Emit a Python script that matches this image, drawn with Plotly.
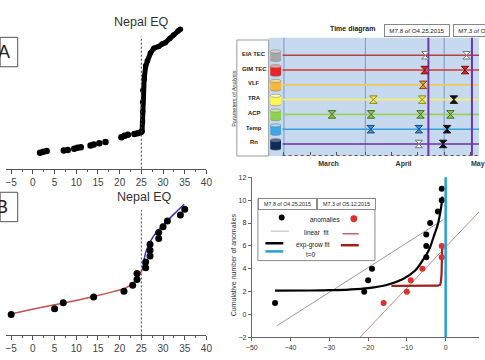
import plotly.graph_objects as go

W, H = 485, 360


def fx(p):
    return p / W


def fy(p):
    return (H - p) / H


# ---------------- Panel A (Nepal EQ, raw cumulative) ----------------
eq_day = 25
a_scatter_day = [1.66, 2.4, 3.17, 7.13, 8.03, 9.53, 10.27, 11.04, 13.29, 14.03, 15.31, 16.73,
                 20.39, 21.16, 21.9, 23.4, 24.15, 24.89]
a_scatter_cum = [16.3, 17.2, 18.0, 18.7, 19.0, 20.3, 21.3, 22.0, 23.7, 24.7, 26.0, 27.3,
                 32.0, 33.7, 34.7, 35.3, 36.3, 37.3]
a_jump_day = [24.89, 25.16, 25.27, 25.3, 25.3, 25.34, 25.65, 26.0, 26.4, 27.1, 27.9, 29.0,
              29.8, 30.5, 31.6, 32.4, 33.5, 34.0]
a_jump_cum = [37.3, 38, 48, 58, 68, 80, 91.3, 105, 110, 118, 123, 124.7,
              127.3, 128.5, 133, 136.3, 140.7, 142.3]

# ---------------- Panel B (Nepal EQ, fitted) ----------------
b_day = [-5, 5, 7, 14, 21, 23, 24, 24, 26, 26, 27, 27, 27, 29, 29, 30, 31, 34, 35]
b_cum = [1, 2, 3, 4, 5, 6, 7, 8, 9, 10, 11, 12, 13, 14, 15, 16, 17, 18, 19]
b_pre_day = [-5.08, 1.28, 5.04, 8.79, 14.03, 18.53, 21.16, 23.02, 24.53, 25.27]
b_pre_cum = [1.12, 2.13, 2.68, 3.25, 4.09, 4.92, 5.48, 6.31, 7.71, 8.83]
b_post_day = [25.27, 26.01, 27.14, 28.64, 30.51, 32.76, 34.87]
b_post_cum = [8.83, 11.62, 13.57, 15.24, 16.65, 18.33, 19.83]
axis_ticks = [-5, 0, 5, 10, 15, 20, 25, 30, 35, 40]

# ---------------- Panel C (time diagram) ----------------
params = ["EIA TEC", "GIM TEC", "VLF", "TRA", "ACP", "Temp", "Rn"]
row_line_colors = ["#b8403c", "#d8342c", "#f0c858", "#f4ee6a", "#9ccf5c", "#3aa0dc", "#6a2fa0"]
cyl_colors = ["#a8a8a8", "#e6262b", "#f4b63c", "#fbf45a", "#92d050", "#3ea6e6", "#10295c"]
cyl_tops = ["#d4d4d4", "#f2a0a0", "#f8d890", "#fdfab0", "#c8e8a4", "#a6d6f4", "#5a6c90"]
ev_param = [0, 0, 1, 1, 2, 3, 3, 3, 4, 4, 4, 4, 5, 5, 5, 6, 6]
ev_date = ["2015-04-23 20:00", "2015-05-09 13:00",
           "2015-04-23 14:00", "2015-05-08 23:00",
           "2015-04-23 00:00",
           "2015-04-04 01:00", "2015-04-22 15:00", "2015-05-04 17:00",
           "2015-03-19 07:00", "2015-04-03 04:00", "2015-04-22 00:00", "2015-05-03 09:00",
           "2015-04-03 01:00", "2015-04-21 09:00", "2015-05-02 03:00",
           "2015-04-21 09:00", "2015-04-30 15:00"]
ev_fill = ["#ffffff", "#ffffff",
           "#d8202a", "#d8202a",
           "#e8923a",
           "#f2ee3c", "#f2ee3c", "#111111",
           "#92c850", "#92c850", "#92c850", "#92c850",
           "#3a94d8", "#3a94d8", "#111111",
           "#ffffff", "#111111"]
ev_edge = ["#777777", "#777777",
           "#7a1010", "#7a1010",
           "#8a4a10",
           "#8a8620", "#8a8620", "#111111",
           "#3f6a20", "#3f6a20", "#3f6a20", "#3f6a20",
           "#1a4a80", "#1a4a80", "#111111",
           "#777777", "#111111"]
quake_dates = ["2015-04-25", "2015-05-11 14:00"]
quake_labels = ["M7.8 of O4.25.2015", "M7.3 of O5.12.2015"]
month_starts = ["2015-03-01", "2015-04-01", "2015-05-01"]
month_label_pos = ["2015-03-18", "2015-04-15 13:00", "2015-05-13 20:00"]
month_names = ["March", "April", "May"]
minor_dates = ["2015-03-01", "2015-03-11", "2015-03-21", "2015-04-01",
               "2015-04-11", "2015-04-21", "2015-05-01", "2015-05-11"]

# ---------------- Panel D (cumulative anomalies) ----------------
m78_day = [-44, -21, -20, -19, -5, -5, -5, -4, -2, -1, -1]
m78_cum = [1, 2, 3, 4, 5, 6, 7, 8, 9, 10, 11]
m73_day = [-16, -10, -9, -6, -1, -1]
m73_cum = [1, 2, 3, 4, 5, 6]
m78_lin_day = [-43.6, -0.6]
m78_lin_cum = [-1.0, 8.3]
m73_lin_day = [-22.1, 8.6]
m73_lin_cum = [-2.0, 8.97]
m78_exp_day = [-44, -35, -30, -25, -20, -15, -11, -8, -6, -5, -4, -3, -2, -1.2, -0.8]
m78_exp_cum = [2.08, 2.1, 2.13, 2.18, 2.3, 2.6, 3.1, 3.8, 4.7, 5.2, 5.9, 6.9, 7.9, 9.3, 10.3]
m73_exp_day = [-14, -6, -2, -1.4, -1.2, -1.05, -0.95, -0.88]
m73_exp_cum = [2.5, 2.5, 2.52, 2.6, 2.9, 3.6, 4.6, 6.0]
t_zero = 0

FONT = "Liberation Sans, Arial, sans-serif"

fig = go.Figure()

# Panel A
fig.add_trace(go.Scatter(x=a_scatter_day, y=a_scatter_cum, mode="markers",
                         marker=dict(color="black", size=6.5), xaxis="x", yaxis="y"))
fig.add_trace(go.Scatter(x=a_jump_day, y=a_jump_cum, mode="lines+markers",
                         line=dict(color="black", width=5), marker=dict(color="black", size=5.5),
                         xaxis="x", yaxis="y"))

# Panel B
fig.add_trace(go.Scatter(x=b_pre_day, y=b_pre_cum, mode="lines", line=dict(color="#c8504c", width=1.5, shape="spline"),
                         xaxis="x2", yaxis="y2"))
fig.add_trace(go.Scatter(x=b_post_day, y=b_post_cum, mode="lines", line=dict(color="#3434c4", width=1.5, shape="spline"),
                         xaxis="x2", yaxis="y2"))
fig.add_trace(go.Scatter(x=b_day, y=b_cum, mode="markers", marker=dict(color="black", size=7),
                         xaxis="x2", yaxis="y2"))

# Panel C
fig.add_trace(go.Scatter(x=ev_date, y=ev_param, mode="markers",
                         marker=dict(symbol="hourglass", size=7.5, color=ev_fill,
                                     line=dict(color=ev_edge, width=1)),
                         xaxis="x3", yaxis="y3"))

# Panel D
fig.add_trace(go.Scatter(x=m78_lin_day, y=m78_lin_cum, mode="lines", line=dict(color="#9a9a9a", width=1),
                         xaxis="x4", yaxis="y4"))
fig.add_trace(go.Scatter(x=m73_lin_day, y=m73_lin_cum, mode="lines", line=dict(color="#c08a86", width=1),
                         xaxis="x4", yaxis="y4"))
fig.add_trace(go.Scatter(x=m78_exp_day, y=m78_exp_cum, mode="lines", line=dict(color="black", width=2.2, shape="spline"),
                         xaxis="x4", yaxis="y4"))
fig.add_trace(go.Scatter(x=m73_exp_day, y=m73_exp_cum, mode="lines", line=dict(color="#a0201c", width=2.2),
                         xaxis="x4", yaxis="y4"))
fig.add_trace(go.Scatter(x=m78_day, y=m78_cum, mode="markers", marker=dict(color="black", size=6),
                         xaxis="x4", yaxis="y4"))
fig.add_trace(go.Scatter(x=m73_day, y=m73_cum, mode="markers", marker=dict(color="#e0302c", size=6),
                         xaxis="x4", yaxis="y4"))

shapes = []
annotations = []

# ---- Panel A/B decorations
shapes.append(dict(type="line", xref="x", yref="y domain", x0=eq_day, x1=eq_day, y0=0, y1=0.804,
                   line=dict(color="#444", width=1, dash="2px,2px")))
shapes.append(dict(type="line", xref="x2", yref="y2 domain", x0=eq_day, x1=eq_day, y0=0, y1=0.81,
                   line=dict(color="#444", width=1, dash="2px,2px")))
for y0, y1, letter, lx, ly in [(34, 64, "A", -2.0, 49), (192, 222, "B", -4.0, 207)]:
    shapes.append(dict(type="rect", xref="paper", yref="paper", x0=fx(-6), x1=fx(12), y0=fy(y1), y1=fy(y0),
                       line=dict(color="#555", width=1), fillcolor="white"))
    annotations.append(dict(text=letter, xref="paper", yref="paper", x=fx(lx), y=fy(ly), showarrow=False,
                            font=dict(size=18, color="#222"), xanchor="center", yanchor="middle"))
annotations.append(dict(text="Nepal EQ", xref="paper", yref="paper", x=fx(138), y=fy(18), showarrow=False,
                        font=dict(size=12.5, color="#333"), xanchor="center", yanchor="middle"))
annotations.append(dict(text="Nepal EQ", xref="paper", yref="paper", x=fx(141), y=fy(196.5), showarrow=False,
                        font=dict(size=12.5, color="#333"), xanchor="center", yanchor="middle"))

# ---- Panel C decorations
shapes.append(dict(type="rect", xref="paper", yref="paper", x0=fx(269.3), x1=1.0, y0=fy(155), y1=fy(34.3),
                   line=dict(width=0), fillcolor="#c7d9ef", layer="below"))
shapes.append(dict(type="rect", xref="paper", yref="paper", x0=fx(236.7), x1=fx(269.3), y0=fy(155), y1=fy(36.7),
                   line=dict(color="#9a9a9a", width=1), fillcolor="white", layer="below"))
for d in month_starts:
    shapes.append(dict(type="line", xref="x3", yref="y3 domain", x0=d, x1=d, y0=0, y1=1,
                       line=dict(color="#7b98c6", width=1), layer="below"))
for i, c in enumerate(row_line_colors):
    shapes.append(dict(type="line", xref="x3 domain", yref="y3", x0=0, x1=1, y0=i, y1=i,
                       line=dict(color=c, width=1.6), layer="below"))
for d in quake_dates:
    shapes.append(dict(type="line", xref="x3", yref="y3 domain", x0=d, x1=d, y0=0, y1=1,
                       line=dict(color="#6b35b0", width=2), layer="below"))
shapes.append(dict(type="line", xref="x3 domain", yref="y3 domain", x0=0, x1=1, y0=0, y1=0,
                   line=dict(color="#555", width=1, dash="dot")))
for i, (c, t) in enumerate(zip(cyl_colors, cyl_tops)):
    shapes.append(dict(type="circle", xref="paper", yref="y3", x0=fx(271), x1=fx(282), y0=i + 0.2, y1=i + 0.42,
                       line=dict(color="#777", width=0.5), fillcolor=c))
    shapes.append(dict(type="rect", xref="paper", yref="y3", x0=fx(271), x1=fx(282), y0=i - 0.26, y1=i + 0.31,
                       line=dict(width=0), fillcolor=c))
    shapes.append(dict(type="circle", xref="paper", yref="y3", x0=fx(271), x1=fx(282), y0=i - 0.37, y1=i - 0.15,
                       line=dict(color="#777", width=0.5), fillcolor=t))
    annotations.append(dict(text="<b>%s</b>" % params[i], xref="paper", yref="y3", x=fx(254.5), y=i - 0.1,
                            showarrow=False, font=dict(size=5.9, color="#222"), xanchor="center", yanchor="middle"))
annotations.append(dict(text="Parameters of Analysis", xref="paper", yref="paper", x=fx(233.5), y=fy(97),
                        showarrow=False, textangle=-90, font=dict(size=5.5, color="#333"),
                        xanchor="center", yanchor="middle"))
annotations.append(dict(text="<b>Time diagram</b>", xref="paper", yref="paper", x=fx(355), y=fy(25.5),
                        showarrow=False, font=dict(size=7, color="#222"), xanchor="center", yanchor="middle"))
for lab, cx in zip(quake_labels, [421.7, 491.7]):
    annotations.append(dict(text=lab, xref="paper", yref="paper", x=fx(cx), y=fy(27), showarrow=False,
                            font=dict(size=6.2, color="#222"), xanchor="center", yanchor="middle",
                            width=62, height=9, bordercolor="#888", borderwidth=1, bgcolor="white", borderpad=1))

# ---- Panel D decorations
shapes.append(dict(type="line", xref="x4", yref="y4 domain", x0=t_zero, x1=t_zero, y0=0, y1=1,
                   line=dict(color="#22a0dc", width=2.5)))
shapes.append(dict(type="rect", xref="paper", yref="paper", x0=fx(258.3), x1=fx(378.3), y0=fy(261.7), y1=fy(198.3),
                   line=dict(color="#8a8a8a", width=1), fillcolor="white"))
for lab, cx in zip(quake_labels, [288.7, 348.8]):
    annotations.append(dict(text=lab, xref="paper", yref="paper", x=fx(cx), y=fy(204.2), showarrow=False,
                            font=dict(size=5.3, color="#222"), xanchor="center", yanchor="middle",
                            width=55, height=8, bordercolor="#8a8a8a", borderwidth=1, bgcolor="white", borderpad=1))
shapes.append(dict(type="circle", xref="paper", yref="paper", x0=fx(279.7), x1=fx(285.7), y0=fy(220.7), y1=fy(214.7),
                   line=dict(width=0), fillcolor="black"))
shapes.append(dict(type="circle", xref="paper", yref="paper", x0=fx(353.2), x1=fx(360.2), y0=fy(222.5), y1=fy(215.5),
                   line=dict(width=0), fillcolor="#e0302c"))
legend_lines = [
    (271.7, 290, 231.7, "#c4c4c4", 1.2), (345, 361.7, 234.3, "#b86a66", 1.5),
    (266, 284.3, 244, "black", 2.5), (343.3, 361.7, 246, "#a0201c", 2.5),
    (266, 284.3, 252.3, "#22a0dc", 2.5),
]
for x0, x1, yy, c, w in legend_lines:
    shapes.append(dict(type="line", xref="paper", yref="paper", x0=fx(x0), x1=fx(x1), y0=fy(yy), y1=fy(yy),
                       line=dict(color=c, width=w)))
for txt, cx, cy in [("anomalies", 327.3, 220), ("linear  fit", 318.3, 233.3),
                    ("exp-grow fit", 315, 246), ("t=0", 312.7, 255)]:
    annotations.append(dict(text=txt, xref="paper", yref="paper", x=fx(cx), y=fy(cy), showarrow=False,
                            font=dict(size=6.5, color="#222"), xanchor="center", yanchor="middle"))
annotations.append(dict(text="Cumulative number of anomalies", xref="paper", yref="paper", x=fx(233.5),
                        y=fy(265.7), showarrow=False, textangle=-90, font=dict(size=7, color="#333"),
                        xanchor="center", yanchor="middle"))

ab_axis = dict(showline=True, linecolor="#555", linewidth=1, ticks="outside", ticklen=4, tickcolor="#555",
               tickmode="array", tickvals=axis_ticks, tickfont=dict(size=10, color="#444"),
               minor=dict(dtick=2.5, tick0=0, ticks="outside", ticklen=2, tickcolor="#555", showgrid=False),
               showgrid=False, zeroline=False, range=[-6.2, 40], domain=[0, fx(205.5)])

fig.update_layout(
    width=W, height=H, margin=dict(l=0, r=0, t=0, b=0),
    paper_bgcolor="white", plot_bgcolor="rgba(0,0,0,0)",
    font=dict(family=FONT, color="#333"),
    showlegend=False,
    xaxis=dict(ab_axis, anchor="y"),
    yaxis=dict(domain=[fy(168), 1], range=[0, 168], visible=False, anchor="x"),
    xaxis2=dict(ab_axis, anchor="y2"),
    yaxis2=dict(domain=[fy(338), fy(180)], range=[-2.56, 23.9], visible=False, anchor="x2"),
    xaxis3=dict(type="date", domain=[fx(283.65), 1], range=["2015-02-28 12:00", "2015-05-14 06:30"],
                anchor="y3", tickmode="array", tickvals=month_label_pos,
                ticktext=["<b>%s</b>" % m for m in month_names], ticks="",
                tickfont=dict(size=7, color="#333"), showgrid=False, showline=False, zeroline=False,
                ticklabelstandoff=3, ticklabeloverflow="allow",
                minor=dict(tickmode="array", tickvals=minor_dates, ticks="inside", ticklen=3,
                           tickcolor="#555", showgrid=False)),
    yaxis3=dict(domain=[fy(154.5), fy(34.3)], range=[6.78, -1.194], visible=False, anchor="x3"),
    xaxis4=dict(domain=[fx(252), 1], range=[-50, 8.6], anchor="y4", dtick=10, tick0=0,
                showline=True, linecolor="#666", ticks="outside", ticklen=3, tickcolor="#666",
                tickfont=dict(size=7, color="#333"), showgrid=False, zeroline=False),
    yaxis4=dict(domain=[fy(340), fy(176.7)], range=[-2, 12], anchor="x4", dtick=2, tick0=0,
                showline=True, linecolor="#666", ticks="outside", ticklen=3, tickcolor="#666",
                tickfont=dict(size=7, color="#333"), showgrid=False, zeroline=False),
    shapes=shapes,
    annotations=annotations,
)

fig.write_html("out.html", config={"displayModeBar": False},
               post_script="document.body.style.margin='0';document.body.style.overflow='hidden';")
